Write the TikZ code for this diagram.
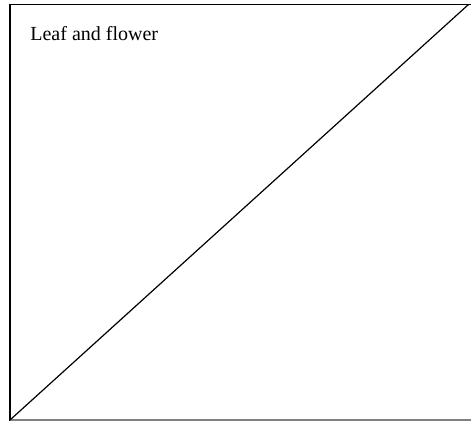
\documentclass[tikz,border=0pt]{standalone}
\usepackage{fontspec}
\setmainfont{Liberation Serif}
\usetikzlibrary{positioning}
\definecolor{edgegray}{RGB}{128,128,128}

\begin{document}
\begin{tikzpicture}[x=0.5pt,y=0.5pt,
      frame/.style={line width=0.75pt,line cap=rect},
      titletext/.style={font=\fontsize{10}{12}\selectfont,anchor=base west,inner sep=0pt}]
    \useasboundingbox (0,0) rectangle (471,421);
    \coordinate (bl) at (10,1);
    \coordinate (tl) at (10,416.5);
    \coordinate (tr) at (471,416.5);
    \coordinate (br) at (471,1);
    \coordinate (tip) at (468.5,416.5);
    \draw[frame] (bl) -- (tl) -- (tr);
    \draw[edgegray,line width=0.6pt] (bl) -- (br);
    \draw[line width=0.6pt] (bl) -- (tip);
    \node[titletext] (title) at (30,380) {Leaf and flower};
  \end{tikzpicture}
\end{document}
